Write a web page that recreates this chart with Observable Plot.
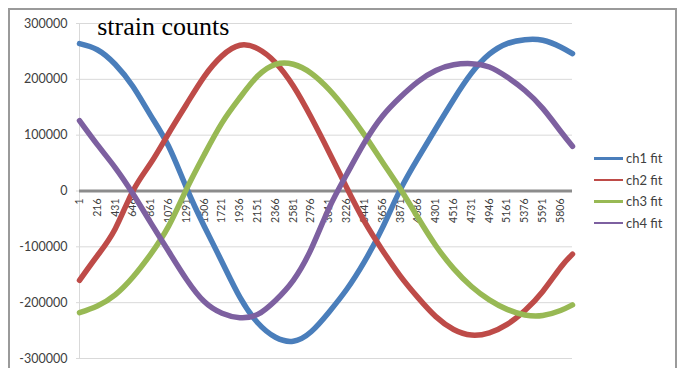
<!DOCTYPE html>
<html><head><meta charset="utf-8">
<script src="https://cdn.jsdelivr.net/npm/d3@7"></script>
<script src="https://cdn.jsdelivr.net/npm/@observablehq/plot@0.6"></script>
<style>
html,body{margin:0;padding:0;background:#fff;}
#wrap{position:relative;width:686px;height:368px;overflow:hidden;background:#fff;}
#wrap svg{position:absolute;left:0;top:0;}
#border{position:absolute;left:8px;top:8px;width:669px;height:420px;border:2px solid #9a9a9a;box-sizing:border-box;pointer-events:none;}
#legend{position:absolute;left:594px;top:147.5px;font-family:Lato,"Open Sans",sans-serif;font-size:13px;color:#404040;}
.item{display:flex;align-items:center;height:21.5px;white-space:nowrap;}
.sw{width:29px;height:2.5px;margin-right:3px;}
</style></head><body>
<div id="wrap"><div id="border"></div><div id="legend"></div></div>
<script>
const titleText = "strain counts";
const seriesNames = ["ch1 fit", "ch2 fit", "ch3 fit", "ch4 fit"];
const seriesColors = ["#4a7ebb", "#be4b48", "#98b954", "#7d60a0"];
const sampleIndex = [1, 216, 431, 646, 861, 1076, 1291, 1506, 1721, 1936, 2151, 2366, 2581, 2796, 3011, 3226, 3441, 3656, 3871, 4086, 4301, 4516, 4731, 4946, 5161, 5376, 5591, 5806, 5950];
const xTickLabels = [1, 216, 431, 646, 861, 1076, 1291, 1506, 1721, 1936, 2151, 2366, 2581, 2796, 3011, 3226, 3441, 3656, 3871, 4086, 4301, 4516, 4731, 4946, 5161, 5376, 5591, 5806];
const yTicks = [-300000, -200000, -100000, 0, 100000, 200000, 300000];

const ch1 = [264000, 253000, 227000, 187000, 135000, 80000, 6000, -63000, -127000, -190000, -236000, -262000, -269000, -252000, -217000, -176000, -126000, -66000, 2000, 59000, 112000, 164000, 211000, 245000, 264000, 271000, 270000, 258000, 246000];
const ch2 = [-160000, -116000, -68000, 0, 50000, 103000, 155000, 205000, 242000, 261000, 255000, 230000, 188000, 132000, 70000, 6000, -55000, -106000, -152000, -191000, -225000, -248000, -258000, -254000, -239000, -214000, -180000, -137000, -113000];
const ch3 = [-218000, -206000, -186000, -154000, -113000, -63000, 3000, 65000, 122000, 167000, 206000, 227000, 227000, 211000, 182000, 144000, 100000, 52000, 4000, -48000, -98000, -139000, -171000, -195000, -212000, -222000, -223000, -214000, -204000];
const ch4 = [126000, 83000, 42000, -5000, -57000, -108000, -158000, -198000, -219000, -227000, -221000, -196000, -160000, -104000, -31000, 30000, 87000, 134000, 168000, 196000, 216000, 226000, 228000, 222000, 204000, 180000, 148000, 107000, 80000];

const seriesValues = [ch1, ch2, ch3, ch4];
const rows = [];
seriesValues.forEach((vals, s) => {
  vals.forEach((v, j) => rows.push({i: sampleIndex[j], v, series: seriesNames[s]}));
});

const chart = Plot.plot({
  width: 686,
  height: 368,
  marginLeft: 79,
  marginRight: 114,
  marginTop: 23,
  marginBottom: 10,
  x: {domain: [1, 5950], axis: null},
  y: {domain: [-300000, 300000], axis: null},
  color: {domain: seriesNames, range: seriesColors},
  style: {fontFamily: "Lato, 'Open Sans', sans-serif", background: "transparent", overflow: "visible"},
  marks: [
    Plot.gridY(yTicks, {stroke: "#d9d9d9", strokeOpacity: 1}),
    Plot.axisY(yTicks, {tickSize: 3, tickPadding: 9, stroke: "#d9d9d9", fill: "#404040", fontSize: 12.5, label: null, tickFormat: d => String(d)}),
    Plot.frame({anchor: "left", stroke: "#d9d9d9"}),
    Plot.ruleY([0], {stroke: "#8c8c8c", strokeWidth: 3}),
    Plot.text(xTickLabels, {x: d => d, y: 0, text: d => String(d), rotate: -90, textAnchor: "end", dy: 7.5, fontSize: 10.5, fill: "#404040"}),
    Plot.line(rows, {x: "i", y: "v", z: "series", stroke: "series", strokeWidth: 5.5, curve: "natural"}),
    Plot.text([titleText], {frameAnchor: "top-left", dx: 17.7, dy: -6.5, lineAnchor: "top", textAnchor: "start", fontFamily: "'Liberation Serif', 'DejaVu Serif', serif", fontSize: 26, fill: "#000"})
  ]
});
document.getElementById("wrap").prepend(chart);

const legend = document.getElementById("legend");
seriesNames.forEach((name, k) => {
  const item = document.createElement("div");
  item.className = "item";
  const sw = document.createElement("span");
  sw.className = "sw";
  sw.style.background = seriesColors[k];
  const label = document.createElement("span");
  label.textContent = name;
  item.appendChild(sw);
  item.appendChild(label);
  legend.appendChild(item);
});
</script>
</body></html>
